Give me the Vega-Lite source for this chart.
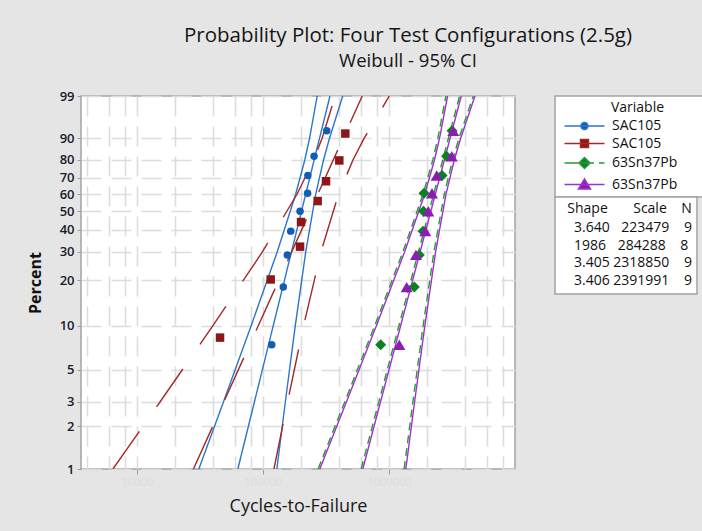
{
  "$schema": "https://vega.github.io/schema/vega-lite/v6.json",
  "width": 434,
  "height": 373,
  "autosize": {"type": "none"},
  "padding": {"left": 81, "top": 96, "right": 187, "bottom": 62},
  "background": "#e5e5e5",
  "title": {
    "text": "Probability Plot: Four Test Configurations (2.5g)",
    "subtitle": "Weibull - 95% CI",
    "anchor": "middle",
    "dx": 110,
    "offset": 20,
    "font": "Open Sans",
    "fontSize": 20.5,
    "fontWeight": "normal",
    "color": "#151515",
    "subtitleFont": "Open Sans",
    "subtitleFontSize": 18.5,
    "subtitleFontWeight": "normal",
    "subtitleColor": "#151515",
    "subtitlePadding": 5
  },
  "config": {
    "font": "Open Sans",
    "view": {"fill": "white", "stroke": "#a3a3a3", "strokeWidth": 1.5},
    "legend": {
      "titleFont": "Open Sans",
      "titleFontSize": 14,
      "titleFontWeight": "normal",
      "titleColor": "#111111",
      "labelFont": "Open Sans",
      "labelFontSize": 14,
      "labelColor": "#111111",
      "fillColor": "white",
      "strokeColor": "#a3a3a3",
      "strokeWidth": 1.5,
      "padding": 5,
      "cornerRadius": 0
    }
  },
  "datasets": {
    "points": [
      {"s": "B", "x": 117300, "z": -2.55895},
      {"s": "B", "x": 144900, "z": -1.612},
      {"s": "B", "x": 155900, "z": -1.08295},
      {"s": "B", "x": 166000, "z": -0.69265},
      {"s": "B", "x": 196800, "z": -0.36651},
      {"s": "B", "x": 226000, "z": -0.07003},
      {"s": "B", "x": 227000, "z": 0.2211},
      {"s": "B", "x": 254300, "z": 0.53655},
      {"s": "B", "x": 320600, "z": 0.9545},
      {"s": "R", "x": 45600, "z": -2.44172},
      {"s": "R", "x": 115100, "z": -1.48665},
      {"s": "R", "x": 196800, "z": -0.94735},
      {"s": "R", "x": 200400, "z": -0.54356},
      {"s": "R", "x": 271600, "z": -0.19859},
      {"s": "R", "x": 316200, "z": 0.12661},
      {"s": "R", "x": 403300, "z": 0.4685},
      {"s": "R", "x": 450200, "z": 0.91024},
      {"s": "G", "x": 859000, "z": -2.55895},
      {"s": "G", "x": 1588000, "z": -1.612},
      {"s": "G", "x": 1740000, "z": -1.08295},
      {"s": "G", "x": 1862000, "z": -0.69265},
      {"s": "G", "x": 1879000, "z": -0.36651},
      {"s": "G", "x": 1896000, "z": -0.07003},
      {"s": "G", "x": 2636000, "z": 0.2211},
      {"s": "G", "x": 2860000, "z": 0.53655},
      {"s": "G", "x": 3162000, "z": 0.9545},
      {"s": "P", "x": 1208000, "z": -2.55895},
      {"s": "P", "x": 1381000, "z": -1.612},
      {"s": "P", "x": 1637000, "z": -1.08295},
      {"s": "P", "x": 1941000, "z": -0.69265},
      {"s": "P", "x": 2050000, "z": -0.36651},
      {"s": "P", "x": 2194000, "z": -0.07003},
      {"s": "P", "x": 2391000, "z": 0.2211},
      {"s": "P", "x": 3148000, "z": 0.53655},
      {"s": "P", "x": 3236000, "z": 0.9545}
    ],
    "lines": [
      {"s": "B", "l": "Bfit", "x": 63150, "z": -4.60015},
      {"s": "B", "l": "Bfit", "x": 339980, "z": 1.52718},
      {"s": "B", "l": "Blo", "x": 30970, "z": -4.60015},
      {"s": "B", "l": "Blo", "x": 48685, "z": -3.49137},
      {"s": "B", "l": "Blo", "x": 80410, "z": -2.25037},
      {"s": "B", "l": "Blo", "x": 129800, "z": -1.03093},
      {"s": "B", "l": "Blo", "x": 181690, "z": -0.08742},
      {"s": "B", "l": "Blo", "x": 214580, "z": 0.47588},
      {"s": "B", "l": "Blo", "x": 234300, "z": 0.83403},
      {"s": "B", "l": "Blo", "x": 269280, "z": 1.52718},
      {"s": "B", "l": "Bhi", "x": 128820, "z": -4.60015},
      {"s": "B", "l": "Bhi", "x": 150560, "z": -3.49137},
      {"s": "B", "l": "Bhi", "x": 180300, "z": -2.25037},
      {"s": "B", "l": "Bhi", "x": 218420, "z": -1.03093},
      {"s": "B", "l": "Bhi", "x": 261940, "z": -0.08742},
      {"s": "B", "l": "Bhi", "x": 302260, "z": 0.47588},
      {"s": "B", "l": "Bhi", "x": 337040, "z": 0.83403},
      {"s": "B", "l": "Bhi", "x": 429180, "z": 1.52718},
      {"s": "R", "l": "Rfit", "x": 28042, "z": -4.60015},
      {"s": "R", "l": "Rfit", "x": 613350, "z": 1.52718},
      {"s": "R", "l": "Rlo", "x": 6443, "z": -4.60015},
      {"s": "R", "l": "Rlo", "x": 15311, "z": -3.49137},
      {"s": "R", "l": "Rlo", "x": 39929, "z": -2.25037},
      {"s": "R", "l": "Rlo", "x": 99127, "z": -1.03093},
      {"s": "R", "l": "Rlo", "x": 186210, "z": -0.08742},
      {"s": "R", "l": "Rlo", "x": 252030, "z": 0.47588},
      {"s": "R", "l": "Rlo", "x": 294520, "z": 0.83403},
      {"s": "R", "l": "Rlo", "x": 374030, "z": 1.52718},
      {"s": "R", "l": "Rhi", "x": 122160, "z": -4.60015},
      {"s": "R", "l": "Rhi", "x": 156850, "z": -3.49137},
      {"s": "R", "l": "Rhi", "x": 209930, "z": -2.25037},
      {"s": "R", "l": "Rhi", "x": 288770, "z": -1.03093},
      {"s": "R", "l": "Rhi", "x": 397400, "z": -0.08742},
      {"s": "R", "l": "Rhi", "x": 517650, "z": 0.47588},
      {"s": "R", "l": "Rhi", "x": 635620, "z": 0.83403},
      {"s": "R", "l": "Rhi", "x": 1005300, "z": 1.52718},
      {"s": "G", "l": "Gfit", "x": 600540, "z": -4.60015},
      {"s": "G", "l": "Gfit", "x": 3631300, "z": 1.52718},
      {"s": "G", "l": "Glo", "x": 273640, "z": -4.60015},
      {"s": "G", "l": "Glo", "x": 446530, "z": -3.49137},
      {"s": "G", "l": "Glo", "x": 768420, "z": -2.25037},
      {"s": "G", "l": "Glo", "x": 1290800, "z": -1.03093},
      {"s": "G", "l": "Glo", "x": 1860400, "z": -0.08742},
      {"s": "G", "l": "Glo", "x": 2225700, "z": 0.47588},
      {"s": "G", "l": "Glo", "x": 2443600, "z": 0.83403},
      {"s": "G", "l": "Glo", "x": 2827100, "z": 1.52718},
      {"s": "G", "l": "Ghi", "x": 1318200, "z": -4.60015},
      {"s": "G", "l": "Ghi", "x": 1548800, "z": -3.49137},
      {"s": "G", "l": "Ghi", "x": 1865500, "z": -2.25037},
      {"s": "G", "l": "Ghi", "x": 2273400, "z": -1.03093},
      {"s": "G", "l": "Ghi", "x": 2745500, "z": -0.08742},
      {"s": "G", "l": "Ghi", "x": 3194400, "z": 0.47588},
      {"s": "G", "l": "Ghi", "x": 3591800, "z": 0.83403},
      {"s": "G", "l": "Ghi", "x": 4663800, "z": 1.52718},
      {"s": "P", "l": "Pfit", "x": 619750, "z": -4.60015},
      {"s": "P", "l": "Pfit", "x": 3745400, "z": 1.52718},
      {"s": "P", "l": "Plo", "x": 282270, "z": -4.60015},
      {"s": "P", "l": "Plo", "x": 460620, "z": -3.49137},
      {"s": "P", "l": "Plo", "x": 792660, "z": -2.25037},
      {"s": "P", "l": "Plo", "x": 1331500, "z": -1.03093},
      {"s": "P", "l": "Plo", "x": 1919100, "z": -0.08742},
      {"s": "P", "l": "Plo", "x": 2295900, "z": 0.47588},
      {"s": "P", "l": "Plo", "x": 2520700, "z": 0.83403},
      {"s": "P", "l": "Plo", "x": 2916300, "z": 1.52718},
      {"s": "P", "l": "Phi", "x": 1359800, "z": -4.60015},
      {"s": "P", "l": "Phi", "x": 1597700, "z": -3.49137},
      {"s": "P", "l": "Phi", "x": 1924400, "z": -2.25037},
      {"s": "P", "l": "Phi", "x": 2345100, "z": -1.03093},
      {"s": "P", "l": "Phi", "x": 2832100, "z": -0.08742},
      {"s": "P", "l": "Phi", "x": 3295200, "z": 0.47588},
      {"s": "P", "l": "Phi", "x": 3705100, "z": 0.83403},
      {"s": "P", "l": "Phi", "x": 4810900, "z": 1.52718}
    ],
    "stats": [
      {"t": "\u2007\u00a03.640\u00a0\u2007223479\u00a0\u00a0\u00a0\u00a09"},
      {"t": "\u2007\u00a0\u20081986\u00a0\u2007284288\u00a0\u00a0\u00a0\u00a08"},
      {"t": "\u2007\u00a03.405\u00a02318850\u00a0\u00a0\u00a0\u00a09"},
      {"t": "\u2007\u00a03.406\u00a02391991\u00a0\u00a0\u00a0\u00a09"}
    ]
  },
  "encoding": {
    "x": {
      "field": "x",
      "type": "quantitative",
      "scale": {"type": "log", "domain": [3594, 10000000], "nice": false},
      "axis": {
        "title": "Cycles-to-Failure",
        "titleFont": "Open Sans",
        "titleFontSize": 18,
        "titleFontWeight": 500,
        "titleColor": "#1a1a1a",
        "titlePadding": 10,
        "values": [4000, 6000, 8000, 10000, 20000, 40000, 60000, 80000, 100000, 200000, 400000, 600000, 800000, 1000000, 2000000, 4000000, 6000000, 8000000],
        "labelExpr": "indexof([10000, 100000, 1000000], datum.value) >= 0 ? format(datum.value, 'd') : ''",
        "labelColor": "#dcdcdc",
        "labelFontSize": 11,
        "labelOverlap": false,
        "labelPadding": 2,
        "tickColor": "#9a9a9a",
        "tickSize": 5,
        "tickWidth": 1,
        "tickOpacity": {"condition": {"test": "indexof([10000, 100000, 1000000], datum.value) >= 0", "value": 1}, "value": 0},
        "domain": false,
        "grid": true,
        "gridColor": "#dcdcdc",
        "gridWidth": 1.6,
        "gridDash": [20, 10]
      }
    },
    "y": {
      "field": "z",
      "type": "quantitative",
      "scale": {"domain": [-4.60015, 1.52718], "nice": false, "zero": false},
      "axis": {
        "title": "Percent",
        "titleFont": "Open Sans",
        "titleFontSize": 16,
        "titleFontWeight": "bold",
        "titleColor": "#111111",
        "titlePadding": 16,
        "values": [-4.60015, -3.90194, -3.49137, -2.9702, -2.25037, -1.49994, -1.03093, -0.67173, -0.36651, -0.08742, 0.18563, 0.47588, 0.83403, 1.52718],
        "labelExpr": "format(100 * (1 - exp(-exp(datum.value))), '.0f')",
        "labelFontSize": 13,
        "labelFontWeight": 600,
        "labelColor": "#1a1a2a",
        "labelPadding": 3,
        "labelOverlap": false,
        "tickColor": "#9a9a9a",
        "tickSize": 4,
        "domain": false,
        "grid": true,
        "gridColor": "#dcdcdc",
        "gridWidth": 1.6,
        "gridDash": [20, 10]
      }
    }
  },
  "layer": [
    {
      "data": {"name": "lines"},
      "transform": [{"filter": "datum.s == 'P'"}],
      "mark": {"type": "line", "color": "#a02fce", "strokeWidth": 1.4, "clip": true},
      "encoding": {"detail": {"field": "l"}, "order": {"field": "z", "type": "quantitative"}}
    },
    {
      "data": {"name": "lines"},
      "transform": [{"filter": "datum.s == 'B'"}],
      "mark": {"type": "line", "color": "#2b76c9", "strokeWidth": 1.4, "clip": true},
      "encoding": {"detail": {"field": "l"}, "order": {"field": "z", "type": "quantitative"}}
    },
    {
      "data": {"name": "lines"},
      "transform": [{"filter": "datum.s == 'R'"}],
      "mark": {"type": "line", "color": "#a32828", "strokeWidth": 1.4, "strokeDash": [46, 30], "clip": true},
      "encoding": {"detail": {"field": "l"}, "order": {"field": "z", "type": "quantitative"}}
    },
    {
      "data": {"name": "lines"},
      "transform": [{"filter": "datum.s == 'G'"}],
      "mark": {"type": "line", "color": "#269a36", "strokeWidth": 1.4, "strokeDash": [8, 5], "clip": true},
      "encoding": {"detail": {"field": "l"}, "order": {"field": "z", "type": "quantitative"}}
    },
    {
      "data": {"name": "points"},
      "transform": [{"filter": "datum.s == 'B'"}],
      "mark": {"type": "point", "shape": "circle", "filled": true, "opacity": 1, "size": 56, "color": "#0f5db4"}
    },
    {
      "data": {"name": "points"},
      "transform": [{"filter": "datum.s == 'R'"}],
      "mark": {"type": "point", "shape": "square", "filled": true, "opacity": 1, "size": 72, "color": "#8e1616"}
    },
    {
      "data": {"name": "points"},
      "transform": [{"filter": "datum.s == 'G'"}],
      "mark": {"type": "point", "shape": "diamond", "filled": true, "opacity": 1, "size": 121, "color": "#0b7f24"}
    },
    {
      "data": {"name": "points"},
      "transform": [{"filter": "datum.s == 'P'"}],
      "mark": {"type": "point", "shape": "triangle-up", "filled": true, "opacity": 1, "size": 144, "color": "#8c1db3"}
    },
    {
      "data": {"name": "points"},
      "transform": [{"filter": "false"}],
      "mark": {"type": "point", "filled": true, "size": 100, "opacity": 1},
      "encoding": {
        "fill": {
          "field": "s", "type": "nominal",
          "scale": {"domain": ["B", "R", "G", "P"], "range": ["#0f5db4", "#8e1616", "#0b7f24", "#8c1db3"]},
          "legend": {"title": "\u200b\u00a0\u00a0\u00a0\u00a0\u00a0\u00a0\u00a0\u00a0\u00a0\u00a0\u00a0\u00a0\u00a0\u00a0Variable", "orient": "none", "legendX": 474, "legendY": 0, "symbolSize": 100, "symbolStrokeWidth": 1.5, "symbolOpacity": 1, "labelOffset": 38, "rowPadding": 3.5, "titlePadding": 4, "labelExpr": "(datum.value == 'B' || datum.value == 'R' ? 'SAC105' : '63Sn37Pb') + '\u00a0\u00a0\u00a0\u00a0\u00a0\u00a0\u200b'"}
        },
        "stroke": {
          "field": "s", "type": "nominal",
          "scale": {"domain": ["B", "R", "G", "P"], "range": ["#2b76c9", "#a32828", "#269a36", "#a02fce"]},
          "legend": {"title": "\u200b\u00a0\u00a0\u00a0\u00a0\u00a0\u00a0\u00a0\u00a0\u00a0\u00a0\u00a0\u00a0\u00a0\u00a0Variable", "orient": "none", "legendX": 474, "legendY": 0, "symbolSize": 100, "symbolStrokeWidth": 1.5, "symbolOpacity": 1, "labelOffset": 38, "rowPadding": 3.5, "titlePadding": 4, "labelExpr": "(datum.value == 'B' || datum.value == 'R' ? 'SAC105' : '63Sn37Pb') + '\u00a0\u00a0\u00a0\u00a0\u00a0\u00a0\u200b'"}
        },
        "shape": {
          "field": "s", "type": "nominal",
          "scale": {"domain": ["B", "R", "G", "P"], "range": [
            "M-0.5,0H7.5M4.2,0A0.7,0.7,0,1,1,2.8,0A0.7,0.7,0,1,1,4.2,0Z",
            "M-0.5,0H7.5M2.7,-0.8H4.3V0.8H2.7Z",
            "M-0.5,0H5.4M6.4,0H7.5M3.5,-1.1L4.6,0L3.5,1.1L2.4,0Z",
            "M-0.5,0H7.5M3.5,-1.1L4.7,0.9L2.3,0.9Z"
          ]},
          "legend": {"title": "\u200b\u00a0\u00a0\u00a0\u00a0\u00a0\u00a0\u00a0\u00a0\u00a0\u00a0\u00a0\u00a0\u00a0\u00a0Variable", "orient": "none", "legendX": 474, "legendY": 0, "symbolSize": 100, "symbolStrokeWidth": 1.5, "symbolOpacity": 1, "labelOffset": 38, "rowPadding": 3.5, "titlePadding": 4, "labelExpr": "(datum.value == 'B' || datum.value == 'R' ? 'SAC105' : '63Sn37Pb') + '\u00a0\u00a0\u00a0\u00a0\u00a0\u00a0\u200b'"}
        }
      }
    },
    {
      "data": {"name": "stats"},
      "transform": [{"filter": "false"}],
      "mark": {"type": "point", "size": 0},
      "encoding": {
        "strokeDash": {
          "field": "t", "type": "nominal",
          "scale": {"domain": [
            "\u2007\u00a03.640\u00a0\u2007223479\u00a0\u00a0\u00a0\u00a09",
            "\u2007\u00a0\u20081986\u00a0\u2007284288\u00a0\u00a0\u00a0\u00a08",
            "\u2007\u00a03.405\u00a02318850\u00a0\u00a0\u00a0\u00a09",
            "\u2007\u00a03.406\u00a02391991\u00a0\u00a0\u00a0\u00a09"
          ], "range": [[1, 0], [1, 0], [1, 0], [1, 0]]},
          "legend": {"title": "\u200b\u00a0\u00a0Shape\u00a0\u00a0\u00a0\u00a0\u00a0\u00a0\u00a0Scale\u00a0\u00a0\u00a0\u00a0N", "orient": "none", "legendX": 474, "legendY": 101, "symbolSize": 0, "symbolStrokeWidth": 0, "symbolOpacity": 0, "labelOffset": 0, "rowPadding": 3.7, "titlePadding": 5}
        }
      }
    }
  ]
}
